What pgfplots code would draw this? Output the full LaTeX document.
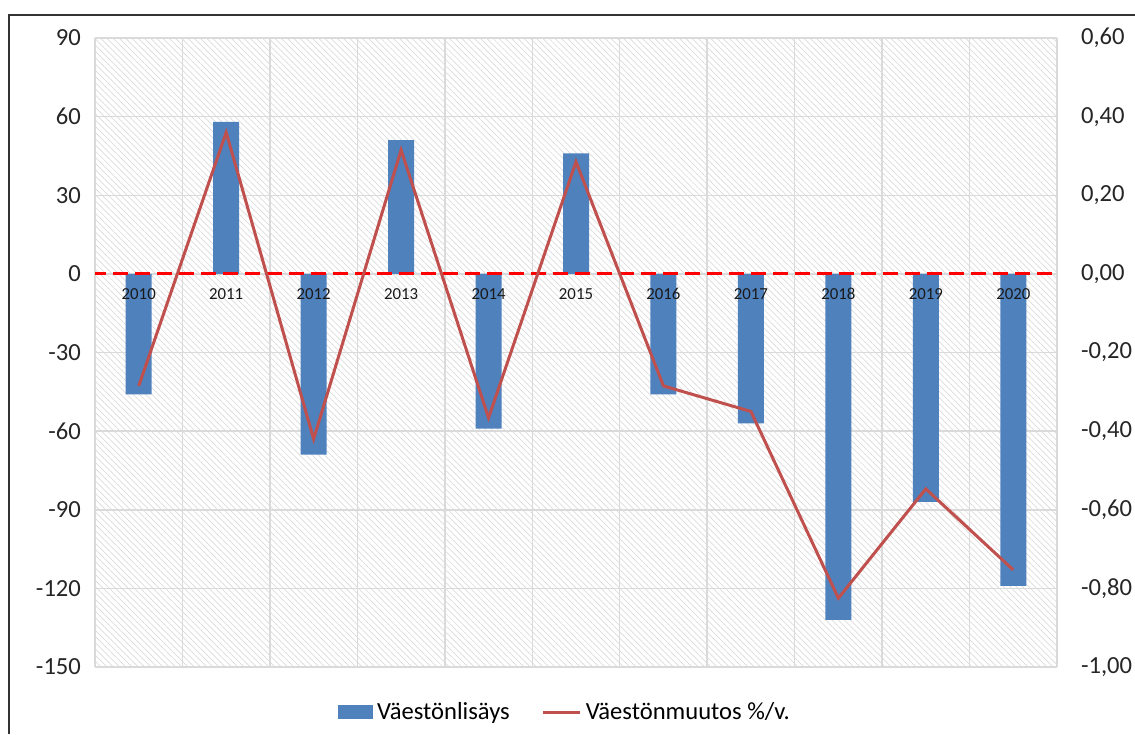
\documentclass[border=0pt]{standalone}
\usepackage{fontspec}
\setmainfont{Carlito}
\usepackage{pgfplots}
\pgfplotsset{compat=1.18}
\usepackage{pgfplotstable}
\usetikzlibrary{patterns.meta}

\definecolor{barblue}{HTML}{4F81BD}
\definecolor{linered}{HTML}{C0504D}
\definecolor{gridgray}{HTML}{DADADA}

% vaestonlisays (left axis) and muutos %/v. (right axis)
\pgfplotstableread{
x  lisays  muutos  vuosi
0  -46     -0.285  2010
1   58      0.36   2011
2  -69     -0.42   2012
3   51      0.315  2013
4  -59     -0.366  2014
5   46      0.285  2015
6  -46     -0.285  2016
7  -57     -0.35   2017
8  -132    -0.825  2018
9  -87     -0.547  2019
10 -119    -0.753  2020
}\vaesto

\pgfplotsset{
  common/.style={
    at={(47.5pt,-333.5pt)}, anchor=south west,
    scale only axis, width=481pt, height=314.5pt,
    xmin=-0.5, xmax=10.5,
    axis line style={draw=none},
    major tick length=0pt,
    tick label style={font=\fontsize{12.3}{14}\selectfont, text=black!85},
  }
}

\begin{document}
\begin{tikzpicture}
\path[use as bounding box] (0,0) rectangle (567.5pt,-367pt);
\draw[line width=0.8pt, black!80] (4.5pt,-367pt) -- (4.5pt,-7.5pt) -- (567.5pt,-7.5pt);

\begin{axis}[common,
  ymin=-150, ymax=90,
  ytick={-150,-120,-90,-60,-30,0,30,60,90},
  yticklabel style={xshift=-3.5pt},
  /pgf/number format/assume math mode=true,
  xtick={-0.5,0.5,1.5,2.5,3.5,4.5,5.5,6.5,7.5,8.5,9.5,10.5},
  xticklabels={},
  grid=major,
  major grid style={draw=gridgray, line width=0.75pt},
  axis background/.style={pattern={Lines[angle=-45,distance=2.2pt,line width=0.35pt]}, pattern color=black!14},
  legend style={at={(0.5,0)}, anchor=center, xshift=-5pt, yshift=-22.5pt,
    draw=none, fill=none, font=\fontsize{12.3}{14}\selectfont, legend columns=2,
    /tikz/every even column/.append style={column sep=14pt}},
  legend cell align=left,
]
\addplot[ybar, bar width=13pt, fill=barblue, draw=none,
  legend image code/.code={\fill[barblue] (0pt,-3.5pt) rectangle (17.5pt,3.5pt);}]
  table[x=x, y=lisays] {\vaesto};
\addlegendentry{Väestönlisäys}
\addlegendimage{legend image code/.code={\draw[draw=linered, line width=1.5pt] (0pt,0pt) -- (18.5pt,0pt);}}
\addlegendentry{Väestönmuutos \%/v.}
\end{axis}

\begin{axis}[common,
  ymin=-1, ymax=0.6,
  axis x line=none,
  axis y line*=right,
  ytick={-1,-0.8,-0.6,-0.4,-0.2,0,0.2,0.4,0.6},
  yticklabel style={xshift=8.5pt, /pgf/number format/.cd, fixed, fixed zerofill, precision=2, use comma, assume math mode=true},
]
\addplot[draw=red, line width=1.5pt, dash pattern=on 7.5pt off 3.5pt] coordinates {(-0.55,0) (10.5,0)};
\addplot[draw=linered, line width=1.5pt, mark=none] table[x=x, y=muutos] {\vaesto};
\addplot[draw=none, mark=none, nodes near coords={\mbox{\pgfplotspointmeta}}, point meta=explicit symbolic,
  nodes near coords style={anchor=north, inner sep=0pt, yshift=-7pt,
    font=\fontsize{8.4}{10}\selectfont, text=black!90}]
  table[x=x, y expr=0, meta=vuosi] {\vaesto};
\end{axis}
\end{tikzpicture}
\end{document}
